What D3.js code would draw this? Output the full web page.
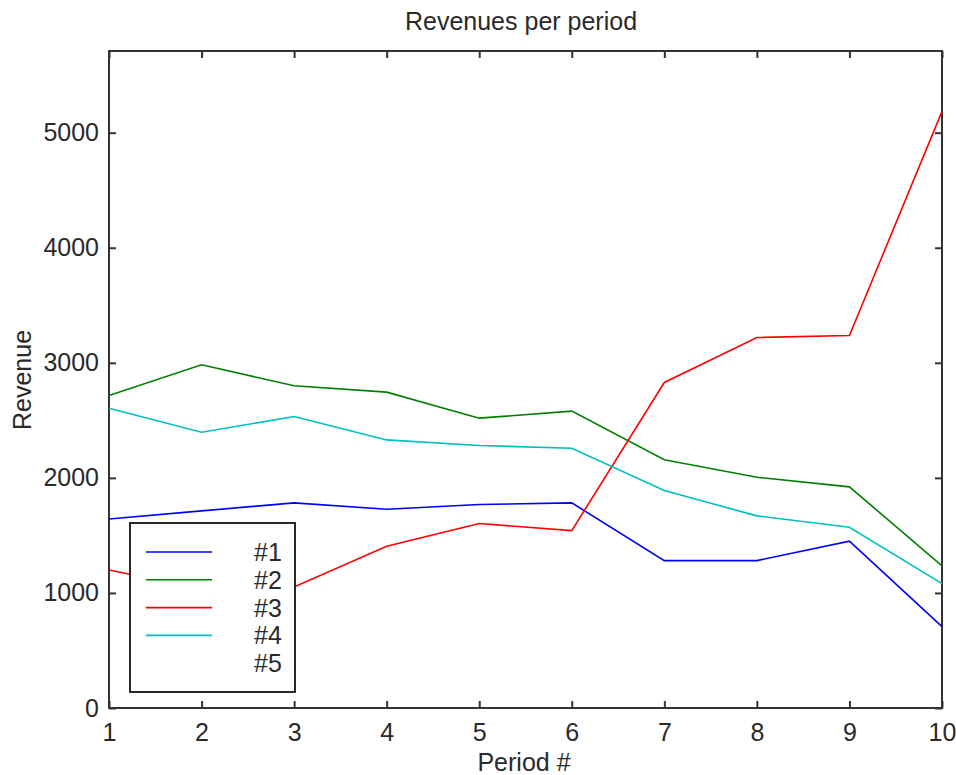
<!DOCTYPE html>
<html>
<head>
<meta charset="utf-8">
<script src="https://cdn.jsdelivr.net/npm/d3@7"></script>
<style>
  html, body { margin: 0; padding: 0; background: #fff; }
  svg text { font-family: "Liberation Sans", Arial, sans-serif; fill: #2a2a2a; }
</style>
</head>
<body>
<svg id="chart" width="956" height="775"></svg>
<script>
// Revenue per period for each of the five units
const periods = [1, 2, 3, 4, 5, 6, 7, 8, 9, 10];
const rev1 = [1643, 1713, 1783, 1728, 1768, 1783, 1281, 1281, 1450, 707];
const rev2 = [2716, 2983, 2800, 2745, 2519, 2580, 2157, 2006, 1922, 1235];
const rev3 = [1200, 1035, 1052, 1405, 1603, 1542, 2829, 3220, 3237, 5185];
const rev4 = [2606, 2397, 2533, 2330, 2281, 2258, 1890, 1670, 1571, 1081];
const rev5 = []; // no recorded values for unit #5
const seriesNames = ["#1", "#2", "#3", "#4", "#5"];
const seriesColors = ["#0000ff", "#008000", "#ff0000", "#00bfbf", "#ff00ff"];
const yTicks = [0, 1000, 2000, 3000, 4000, 5000];
const yMax = 5710;

const seriesValues = [rev1, rev2, rev3, rev4, rev5];

const svg = d3.select("#chart");
const plotLeft = 109, plotRight = 942, plotTop = 51, plotBottom = 708;

const x = d3.scaleLinear().domain([1, 10]).range([plotLeft, plotRight]);
const y = d3.scaleLinear().domain([0, yMax]).range([plotBottom, plotTop]);

const axisColor = "#333";
const tickLen = 7;
const fontSize = 25;

// plot box
svg.append("rect")
  .attr("x", plotLeft).attr("y", plotTop)
  .attr("width", plotRight - plotLeft).attr("height", plotBottom - plotTop)
  .attr("fill", "none").attr("stroke", axisColor).attr("stroke-width", 2);

// axes with inward ticks
const xAxis = svg.append("g").attr("transform", `translate(0,${plotBottom})`)
  .call(d3.axisBottom(x).tickValues(periods).tickFormat(d3.format("d"))
    .tickSizeInner(-tickLen).tickSizeOuter(0).tickPadding(15));
const yAxis = svg.append("g").attr("transform", `translate(${plotLeft},0)`)
  .call(d3.axisLeft(y).tickValues(yTicks).tickFormat(d3.format("d"))
    .tickSizeInner(-tickLen).tickSizeOuter(0).tickPadding(10));
const xTop = svg.append("g").attr("transform", `translate(0,${plotTop})`)
  .call(d3.axisTop(x).tickValues(periods).tickFormat("")
    .tickSizeInner(-tickLen).tickSizeOuter(0));
const yRight = svg.append("g").attr("transform", `translate(${plotRight},0)`)
  .call(d3.axisRight(y).tickValues(yTicks).tickFormat("")
    .tickSizeInner(-tickLen).tickSizeOuter(0));

[xAxis, yAxis, xTop, yRight].forEach(g => {
  g.select(".domain").remove();
  g.selectAll(".tick line").attr("stroke", axisColor).attr("stroke-width", 2);
  g.selectAll(".tick text").attr("font-size", fontSize).attr("fill", "#2a2a2a")
    .style("font-family", '"Liberation Sans", Arial, sans-serif');
});

// series lines
const line = d3.line().x((d, i) => x(periods[i])).y(d => y(d));
seriesValues.forEach((vals, k) => {
  if (!vals.length) return;
  svg.append("path")
    .datum(vals)
    .attr("d", line)
    .attr("fill", "none")
    .attr("stroke", seriesColors[k])
    .attr("stroke-width", 1.6);
});

// title and axis labels
svg.append("text").attr("x", 521).attr("y", 30)
  .attr("text-anchor", "middle").attr("font-size", fontSize)
  .text("Revenues per period");
svg.append("text").attr("x", 524).attr("y", 771)
  .attr("text-anchor", "middle").attr("font-size", fontSize)
  .text("Period #");
svg.append("text")
  .attr("transform", "translate(31,380) rotate(-90)")
  .attr("text-anchor", "middle").attr("font-size", fontSize)
  .text("Revenue");

// legend
const legend = svg.append("g");
legend.append("rect")
  .attr("x", 130).attr("y", 523).attr("width", 165).attr("height", 169)
  .attr("fill", "#fff").attr("stroke", "#111").attr("stroke-width", 1.8);
seriesNames.forEach((name, k) => {
  const ly = 552 + k * 27.8;
  if (seriesValues[k].length) {
    legend.append("line")
      .attr("x1", 146).attr("x2", 212).attr("y1", ly).attr("y2", ly)
      .attr("stroke", seriesColors[k]).attr("stroke-width", 1.6);
  }
  legend.append("text")
    .attr("x", 254).attr("y", ly).attr("dy", "0.36em")
    .attr("font-size", fontSize)
    .text(name);
});
</script>
</body>
</html>
